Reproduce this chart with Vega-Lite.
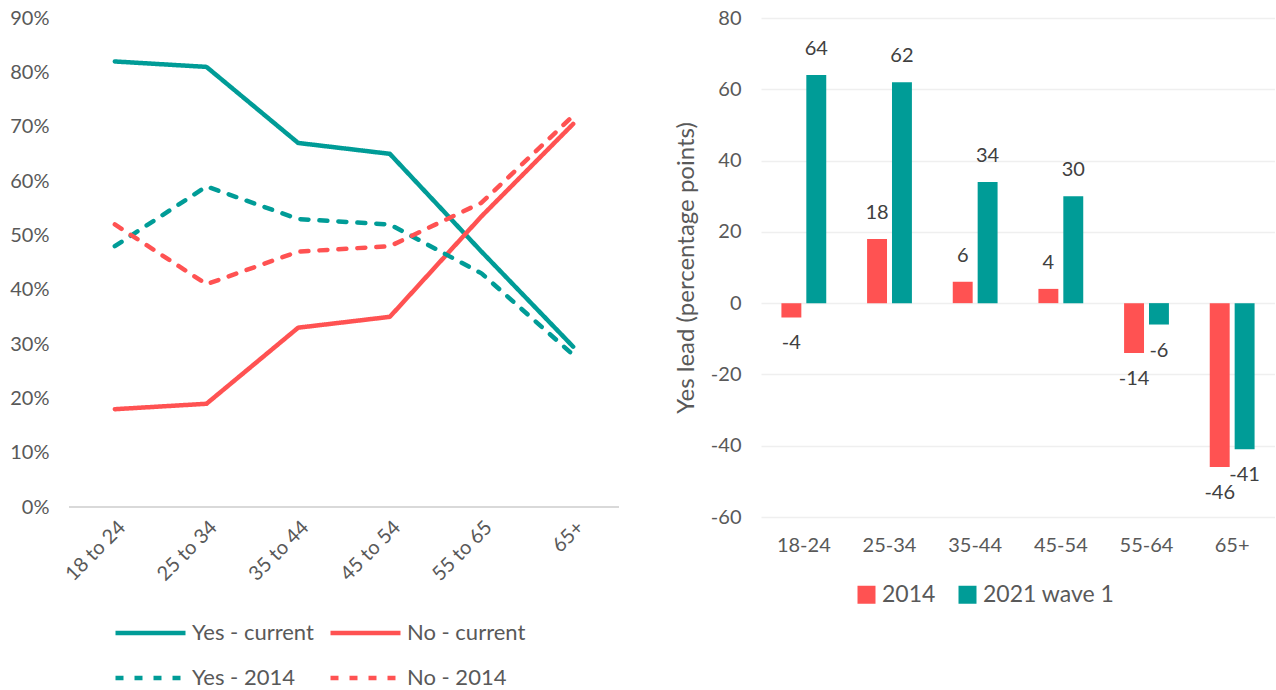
{
  "$schema": "https://vega.github.io/schema/vega-lite/v6.json",
  "background": "white",
  "padding": {"left": 9, "top": 8, "right": 0, "bottom": 0},
  "spacing": 54,
  "resolve": {"scale": {"color": "independent", "strokeDash": "independent"}, "legend": {"color": "independent", "strokeDash": "independent"}},
  "config": {
    "font": "Lato",
    "view": {"stroke": null},
    "axis": {"labelColor": "#595959", "titleColor": "#595959", "labelFontSize": 20, "domain": false, "ticks": false, "gridColor": "#EFEFEF", "gridWidth": 1.5},
    "legend": {"labelColor": "#595959", "labelFontSize": 23, "title": null}
  },
  "datasets": {
    "lines": [
      {"age": "18 to 24", "series": "Yes - current", "pct": 82},
      {"age": "25 to 34", "series": "Yes - current", "pct": 81},
      {"age": "35 to 44", "series": "Yes - current", "pct": 67},
      {"age": "45 to 54", "series": "Yes - current", "pct": 65},
      {"age": "55 to 65", "series": "Yes - current", "pct": 47},
      {"age": "65+", "series": "Yes - current", "pct": 29.5},
      {"age": "18 to 24", "series": "No - current", "pct": 18},
      {"age": "25 to 34", "series": "No - current", "pct": 19},
      {"age": "35 to 44", "series": "No - current", "pct": 33},
      {"age": "45 to 54", "series": "No - current", "pct": 35},
      {"age": "55 to 65", "series": "No - current", "pct": 53.5},
      {"age": "65+", "series": "No - current", "pct": 70.5},
      {"age": "18 to 24", "series": "Yes - 2014", "pct": 48},
      {"age": "25 to 34", "series": "Yes - 2014", "pct": 59},
      {"age": "35 to 44", "series": "Yes - 2014", "pct": 53},
      {"age": "45 to 54", "series": "Yes - 2014", "pct": 52},
      {"age": "55 to 65", "series": "Yes - 2014", "pct": 43},
      {"age": "65+", "series": "Yes - 2014", "pct": 28},
      {"age": "18 to 24", "series": "No - 2014", "pct": 52},
      {"age": "25 to 34", "series": "No - 2014", "pct": 41},
      {"age": "35 to 44", "series": "No - 2014", "pct": 47},
      {"age": "45 to 54", "series": "No - 2014", "pct": 48},
      {"age": "55 to 65", "series": "No - 2014", "pct": 56},
      {"age": "65+", "series": "No - 2014", "pct": 72}
    ],
    "bars": [
      {"age": "18-24", "series": "2014", "lead": -4},
      {"age": "18-24", "series": "2021 wave 1", "lead": 64},
      {"age": "25-34", "series": "2014", "lead": 18},
      {"age": "25-34", "series": "2021 wave 1", "lead": 62},
      {"age": "35-44", "series": "2014", "lead": 6},
      {"age": "35-44", "series": "2021 wave 1", "lead": 34},
      {"age": "45-54", "series": "2014", "lead": 4},
      {"age": "45-54", "series": "2021 wave 1", "lead": 30},
      {"age": "55-64", "series": "2014", "lead": -14},
      {"age": "55-64", "series": "2021 wave 1", "lead": -6},
      {"age": "65+", "series": "2014", "lead": -46},
      {"age": "65+", "series": "2021 wave 1", "lead": -41}
    ]
  },
  "hconcat": [
    {
      "width": 550,
      "height": 489,
      "layer": [
        {
          "data": {"values": [{}]},
          "mark": {"type": "rule", "color": "#D9D9D9", "strokeWidth": 2},
          "encoding": {"y": {"datum": 0, "type": "quantitative"}}
        },
        {
          "data": {"name": "lines"},
          "mark": {"type": "line", "strokeWidth": 4.5, "strokeCap": "round", "strokeJoin": "round"},
          "encoding": {
            "x": {"field": "age", "type": "nominal", "sort": ["18 to 24", "25 to 34", "35 to 44", "45 to 54", "55 to 65", "65+"], "scale": {"type": "point", "padding": 0.5}, "axis": {"labelAngle": -45, "title": null, "labelPadding": 10, "grid": false}},
            "y": {"field": "pct", "type": "quantitative", "scale": {"domain": [0, 90]}, "axis": {"values": [0, 10, 20, 30, 40, 50, 60, 70, 80, 90], "labelExpr": "datum.value + '%'", "title": null, "labelPadding": 20}},
            "color": {"field": "series", "type": "nominal", "scale": {"domain": ["Yes - current", "No - current", "Yes - 2014", "No - 2014"], "range": ["#009C97", "#FF5252", "#009C97", "#FF5252"]},
              "legend": {"orient": "none", "direction": "horizontal", "legendX": 44, "legendY": 604, "columns": 2, "symbolType": "stroke", "symbolSize": 4900, "symbolStrokeWidth": 4.5, "clipHeight": 22, "rowPadding": 23, "columnPadding": 14, "labelLimit": 300, "labelFontSize": 22}},
            "strokeDash": {"field": "series", "type": "nominal", "scale": {"domain": ["Yes - current", "No - current", "Yes - 2014", "No - 2014"], "range": [[1, 0], [1, 0], [8, 11], [8, 11]]},
              "legend": {"orient": "none", "direction": "horizontal", "legendX": 44, "legendY": 604, "columns": 2, "symbolType": "stroke", "symbolSize": 4900, "symbolStrokeWidth": 4.5, "clipHeight": 22, "rowPadding": 23, "columnPadding": 14, "labelLimit": 300, "labelFontSize": 22}}
          }
        }
      ]
    },
    {
      "width": 514,
      "height": 499,
      "data": {"name": "bars"},
      "encoding": {
        "x": {"field": "age", "type": "nominal", "sort": ["18-24", "25-34", "35-44", "45-54", "55-64", "65+"], "scale": {"paddingInner": 0, "paddingOuter": 0}, "axis": {"title": null, "labelAngle": 0, "labelPadding": 18, "grid": false}},
        "xOffset": {"field": "series", "type": "nominal", "sort": ["2014", "2021 wave 1"], "scale": {"paddingInner": 0.2, "paddingOuter": 0.82}},
        "y": {"field": "lead", "type": "quantitative", "scale": {"domain": [-60, 80]}, "axis": {"values": [-60, -40, -20, 0, 20, 40, 60, 80], "labelExpr": "'' + datum.value", "title": "Yes lead (percentage points)", "titleFontSize": 24, "titleFontWeight": "normal", "titlePadding": 12, "labelPadding": 20}}
      },
      "layer": [
        {
          "data": {"values": [{}]},
          "mark": {"type": "rule", "color": "#D9D9D9", "strokeWidth": 2},
          "encoding": {"x": null, "xOffset": null, "y": {"datum": 0, "type": "quantitative"}}
        },
        {
          "mark": {"type": "bar"},
          "encoding": {
            "color": {"field": "series", "type": "nominal", "scale": {"domain": ["2014", "2021 wave 1"], "range": ["#FF5252", "#009C97"]},
              "legend": {"orient": "none", "legendX": 94, "legendY": 565, "direction": "horizontal", "symbolType": "square", "symbolSize": 324, "symbolStrokeWidth": 0, "columnPadding": 20}}
          }
        },
        {
          "transform": [{"filter": "datum.lead >= 0"}],
          "mark": {"type": "text", "fontSize": 20, "color": "#404040", "dy": -26, "baseline": "middle"},
          "encoding": {"text": {"field": "lead", "type": "nominal"}}
        },
        {
          "transform": [{"filter": "datum.lead < 0"}],
          "mark": {"type": "text", "fontSize": 20, "color": "#404040", "dy": 26, "baseline": "middle"},
          "encoding": {"text": {"field": "lead", "type": "nominal"}}
        }
      ]
    }
  ]
}
